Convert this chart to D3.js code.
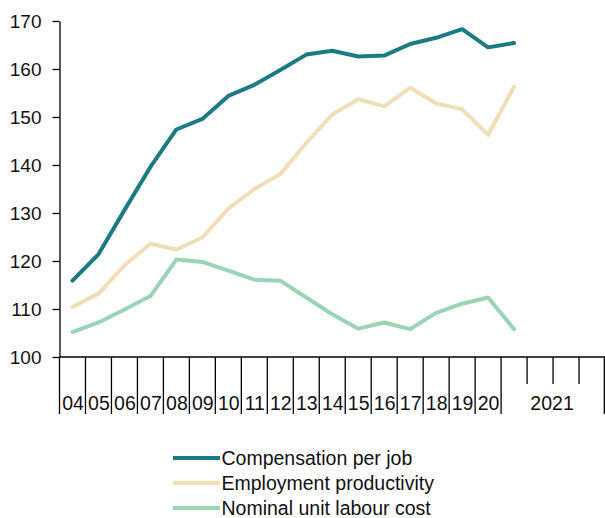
<!DOCTYPE html>
<html>
<head>
<meta charset="utf-8">
<script src="https://cdn.jsdelivr.net/npm/d3@7"></script>
<style>
  html, body { margin: 0; padding: 0; background: #fff; }
  svg { display: block; font-family: "Liberation Sans", Arial, sans-serif; }
</style>
</head>
<body>
<svg id="chart" width="605" height="518"></svg>
<script>
// ---- data ----
const years = ["04","05","06","07","08","09","10","11","12","13","14","15","16","17","18","19","20"];
const quarters2021 = ["2021Q1","2021Q2","2021Q3","2021Q4"];
const categories = years.concat(quarters2021);
const pointCategories = years.concat(["2021Q1"]);

const compensationPerJob = [115.9,121.4,130.6,139.6,147.4,149.6,154.4,156.7,159.8,163.0,163.8,162.6,162.8,165.2,166.5,168.3,164.5,165.4];
const employmentProductivity = [110.4,113.2,119.1,123.6,122.4,124.9,130.9,135.0,138.1,144.6,150.5,153.7,152.2,156.1,152.8,151.6,146.3,156.3];
const nominalUnitLabourCost = [105.2,107.2,109.9,112.7,120.3,119.8,118.0,116.1,115.9,112.4,108.9,105.9,107.2,105.8,109.2,111.1,112.4,105.8];

const yTicks = [100,110,120,130,140,150,160,170];
const seriesNames = ["Compensation per job","Employment productivity","Nominal unit labour cost"];
const seriesColors = ["#1b7a84","#f0dfb6","#98d4b5"];

// ---- layout ----
const svg = d3.select("#chart");
const mLeft = 59.5, mRight = 605, mTop = 21, mBottom = 357;

const x = d3.scaleBand().domain(categories).range([mLeft, mRight]).padding(0);
const y = d3.scaleLinear().domain([100,170]).range([mBottom, mTop]);

// y axis
const yAxis = d3.axisLeft(y).tickValues(yTicks).tickSize(7).tickSizeOuter(0).tickPadding(11);
svg.append("g").attr("transform", `translate(${mLeft},0)`).call(yAxis)
  .call(g => g.select(".domain").attr("stroke","#000").attr("stroke-width",1.3))
  .call(g => g.selectAll(".tick line").attr("stroke","#000").attr("stroke-width",1.3))
  .call(g => g.selectAll(".tick text").attr("font-size","19px").attr("fill","#111")
               .attr("font-family","Liberation Sans, Arial, sans-serif"));

// x axis line
const gx = svg.append("g");
gx.append("line").attr("x1", mLeft).attr("x2", mRight).attr("y1", mBottom).attr("y2", mBottom)
  .attr("stroke","#000").attr("stroke-width",1.3);

// long ticks at year boundaries
const longTickXs = years.map(c => x(c)).concat([x("2021Q1"), mRight - 0.7]);
gx.selectAll("line.long").data(longTickXs).join("line").attr("class","long")
  .attr("x1", d => d).attr("x2", d => d).attr("y1", mBottom).attr("y2", 414)
  .attr("stroke","#000").attr("stroke-width",1.3);

// short ticks between quarters
gx.selectAll("line.short").data(quarters2021.slice(1)).join("line").attr("class","short")
  .attr("x1", d => x(d)).attr("x2", d => x(d)).attr("y1", mBottom).attr("y2", 384)
  .attr("stroke","#000").attr("stroke-width",1.3);

// year labels
gx.selectAll("text.yr").data(years).join("text").attr("class","yr")
  .attr("x", d => x(d) + x.bandwidth()/2 + 0.5).attr("y", 410)
  .attr("text-anchor","middle").attr("font-size","19.5px").attr("fill","#111")
  .text(d => d);
gx.append("text")
  .attr("x", (x("2021Q1") + mRight)/2 - 1).attr("y", 410)
  .attr("text-anchor","middle").attr("font-size","19.5px").attr("fill","#111")
  .text("2021");

// lines
const allSeries = [compensationPerJob, employmentProductivity, nominalUnitLabourCost];
const line = d3.line()
  .x((d,i) => x(pointCategories[i]) + x.bandwidth()/2)
  .y(d => y(d));

[2,1,0].forEach(k => {
  svg.append("path").datum(allSeries[k])
    .attr("d", line).attr("fill","none")
    .attr("stroke", seriesColors[k]).attr("stroke-width", 4)
    .attr("stroke-linejoin","round").attr("stroke-linecap","round");
});

// legend
const lg = svg.append("g");
seriesNames.forEach((name, i) => {
  const yy = 458 + i*25;
  lg.append("line").attr("x1",173).attr("x2",220).attr("y1",yy).attr("y2",yy)
    .attr("stroke", seriesColors[i]).attr("stroke-width",4);
  lg.append("text").attr("x",221.5).attr("y",yy+7)
    .attr("font-size","19.5px").attr("fill","#111").text(name);
});
</script>
</body>
</html>
